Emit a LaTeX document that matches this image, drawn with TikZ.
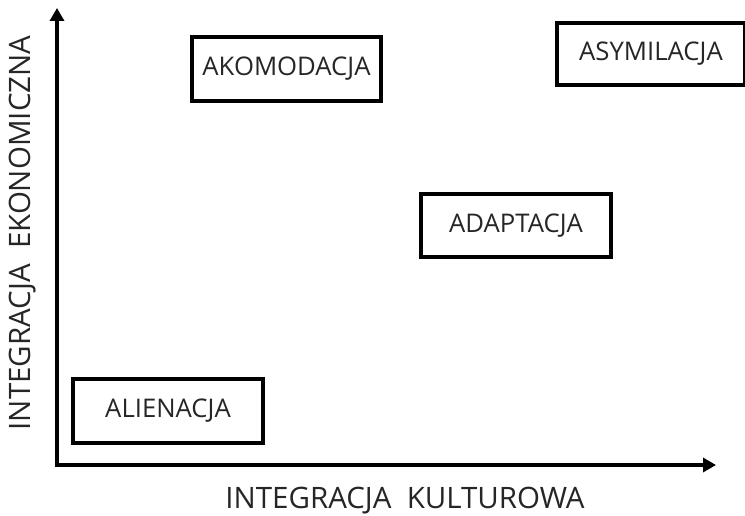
\documentclass[tikz,border=0pt]{standalone}
\usepackage{fontspec}
\setmainfont{Open Sans}
\usetikzlibrary{arrows.meta}
\begin{document}
\begin{tikzpicture}[x=1pt,y=-1pt,
  boxst/.style={draw,line width=4pt,minimum width=#1,inner sep=0pt,font=\fontsize{25.7}{28}\selectfont,text=black!85},
  axis/.style={line width=4.5pt,-{Triangle[length=13pt,width=14pt]}},
  lab/.style={font=\fontsize{29.5}{32}\selectfont,text=black!85,inner sep=0pt}]
\useasboundingbox (0,0) rectangle (745,516);
\coordinate (o) at (57,465);
\coordinate (yt) at (57,8);
\coordinate (xt) at (716,465);
\draw[axis] (o|-0,467) -- (yt);
\draw[axis] (55,465) -- (xt);
\node[boxst=189pt,minimum height=64pt] (ako) at (286.5,69) {AKOMODACJA};
\node[boxst=188pt,minimum height=62pt] (asy) at (651,54) {ASYMILACJA};
\node[boxst=190pt,minimum height=63pt] (ada) at (516,225.5) {ADAPTACJA};
\node[boxst=190pt,minimum height=64pt] (ali) at (168,411) {ALIENACJA};
\node[lab] (xl) at (405,501) {INTEGRACJA\ \ KULTUROWA};
\node[lab,rotate=90] (yl) at (23,233) {INTEGRACJA\ \ EKONOMICZNA};
\end{tikzpicture}
\end{document}
